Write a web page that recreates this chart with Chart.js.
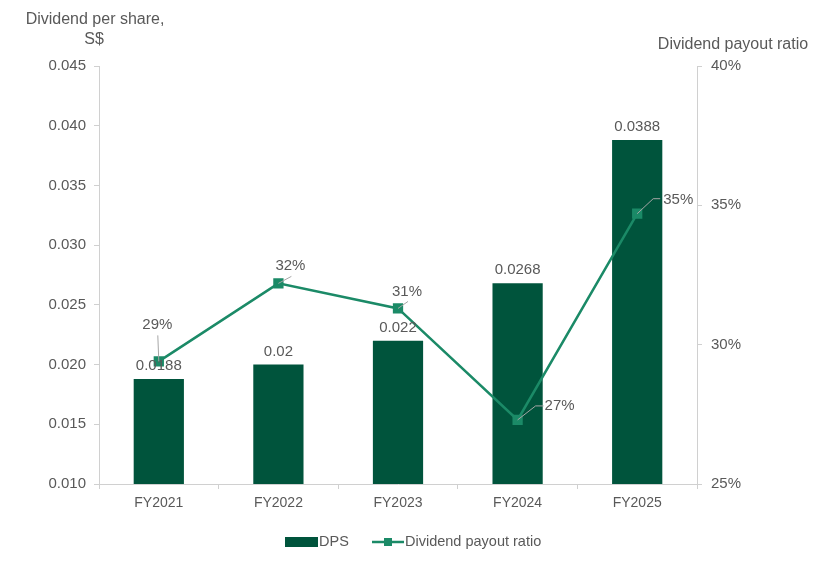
<!DOCTYPE html>
<html lang="en">
<head>
    <meta charset="UTF-8">
    <title>Dividend per share and payout ratio</title>
    <script src="https://cdn.jsdelivr.net/npm/chart.js"></script>
    <style>
        html, body { margin: 0; padding: 0; background: #fff; }
        #wrap { width: 824px; height: 565px; }
    </style>
</head>
<body>
    <div id="wrap"><canvas id="dpsChart" width="824" height="565"></canvas></div>

    <script>
        // data
        const years = ['FY2021', 'FY2022', 'FY2023', 'FY2024', 'FY2025'];
        const dps = [0.0188, 0.02, 0.022, 0.0268, 0.0388];
        const dpsLabels = ['0.0188', '0.02', '0.022', '0.0268', '0.0388'];
        const payoutRatio = [29.4, 32.2, 31.3, 27.3, 34.7];
        const leftTicks = [0.010, 0.015, 0.020, 0.025, 0.030, 0.035, 0.040, 0.045];
        const rightTicks = [25, 30, 35, 40];

        const barColor = '#00543C';
        const lineColor = '#1B8A67';
        const textColor = '#595959';
        const axisColor = '#D0D0D0';
        const font = 'Liberation Sans, Arial, sans-serif';

        // where the % labels sit relative to each point (leader line goes to "lead")
        const ratioLabelPos = [
            { lead: [-1, -26], text: [-1.5, -37], align: 'center' },
            { lead: [13, -7], text: [12, -18], align: 'center' },
            { lead: [10, -7], text: [9, -17], align: 'center' },
            { lead: [18, -14, 26], text: [27, -14], align: 'left' },
            { lead: [16, -15, 23], text: [26, -14], align: 'left' }
        ];

        // value labels, leader lines, axis titles and the legend
        const annotate = {
            id: 'annotate',
            afterDatasetsDraw(chart) {
                const ctx = chart.ctx;
                ctx.save();
                ctx.fillStyle = textColor;
                ctx.font = '15px ' + font;
                ctx.textAlign = 'center';
                ctx.textBaseline = 'alphabetic';
                chart.getDatasetMeta(0).data.forEach((bar, i) => {
                    ctx.fillText(dpsLabels[i], bar.x, bar.y - 9);
                });

                chart.getDatasetMeta(1).data.forEach((pt, i) => {
                    const p = ratioLabelPos[i];
                    ctx.strokeStyle = '#A6A6A6';
                    ctx.lineWidth = 1;
                    ctx.beginPath();
                    ctx.moveTo(pt.x, pt.y);
                    ctx.lineTo(pt.x + p.lead[0], pt.y + p.lead[1]);
                    if (p.lead.length > 2) ctx.lineTo(pt.x + p.lead[2], pt.y + p.lead[1]);
                    ctx.stroke();
                    ctx.textAlign = p.align;
                    ctx.textBaseline = 'middle';
                    ctx.fillText(Math.round(payoutRatio[i]) + '%', pt.x + p.text[0], pt.y + p.text[1]);
                });
                ctx.restore();
            },
            afterDraw(chart) {
                const ctx = chart.ctx;
                ctx.save();
                ctx.fillStyle = textColor;
                ctx.font = '16px ' + font;
                ctx.textAlign = 'center';
                ctx.textBaseline = 'middle';
                ctx.fillText('Dividend per share,', 95, 20);
                ctx.fillText('S$', 94, 40);
                ctx.fillText('Dividend payout ratio', 733, 45);

                // legend
                const ly = 542;
                ctx.fillStyle = barColor;
                ctx.fillRect(285, ly - 5, 33, 10);
                ctx.strokeStyle = lineColor;
                ctx.lineWidth = 2.5;
                ctx.beginPath();
                ctx.moveTo(372, ly);
                ctx.lineTo(404, ly);
                ctx.stroke();
                ctx.fillStyle = lineColor;
                ctx.fillRect(384, ly - 4, 8, 8);
                ctx.fillStyle = textColor;
                ctx.font = '14.5px ' + font;
                ctx.textAlign = 'left';
                ctx.fillText(chart.data.datasets[0].label, 319, ly);
                ctx.fillText(chart.data.datasets[1].label, 405, ly);
                ctx.restore();
            }
        };

        const ctx = document.getElementById('dpsChart').getContext('2d');

        new Chart(ctx, {
            type: 'bar',
            data: {
                labels: years,
                datasets: [{
                    label: 'DPS',
                    data: dps,
                    backgroundColor: barColor,
                    yAxisID: 'y',
                    barPercentage: 0.42,
                    categoryPercentage: 1,
                    order: 2
                }, {
                    type: 'line',
                    label: 'Dividend payout ratio',
                    data: payoutRatio,
                    borderColor: lineColor,
                    backgroundColor: lineColor,
                    borderWidth: 2.5,
                    pointStyle: 'rect',
                    pointRadius: 5.5,
                    pointHoverRadius: 5.5,
                    tension: 0,
                    yAxisID: 'y1',
                    order: 1
                }]
            },
            options: {
                responsive: false,
                animation: false,
                layout: { padding: { top: 66, bottom: 0, left: 0, right: 0 } },
                plugins: {
                    legend: { display: false },
                    tooltip: { enabled: false }
                },
                scales: {
                    x: {
                        offset: true,
                        grid: { offset: true, drawOnChartArea: false, tickLength: 5, color: axisColor },
                        border: { color: axisColor },
                        ticks: { color: textColor, font: { family: font, size: 14 }, padding: 6 },
                        afterFit(scale) { scale.height = 81; }
                    },
                    y: {
                        position: 'left',
                        min: leftTicks[0],
                        max: leftTicks[leftTicks.length - 1],
                        afterBuildTicks(scale) { scale.ticks = leftTicks.map(v => ({ value: v })); },
                        grid: { drawOnChartArea: false, tickLength: 5, color: axisColor },
                        border: { color: axisColor },
                        ticks: {
                            color: textColor,
                            font: { family: font, size: 15 },
                            padding: 8,
                            callback: v => Number(v).toFixed(3)
                        },
                        afterFit(scale) { scale.width = 99; }
                    },
                    y1: {
                        position: 'right',
                        min: rightTicks[0],
                        max: rightTicks[rightTicks.length - 1],
                        afterBuildTicks(scale) { scale.ticks = rightTicks.map(v => ({ value: v })); },
                        grid: { drawOnChartArea: false, tickLength: 5, color: axisColor },
                        border: { color: axisColor },
                        ticks: {
                            color: textColor,
                            font: { family: font, size: 15 },
                            padding: 9,
                            callback: v => v + '%'
                        },
                        afterFit(scale) { scale.width = 127; }
                    }
                }
            },
            plugins: [annotate]
        });
    </script>
</body>
</html>
